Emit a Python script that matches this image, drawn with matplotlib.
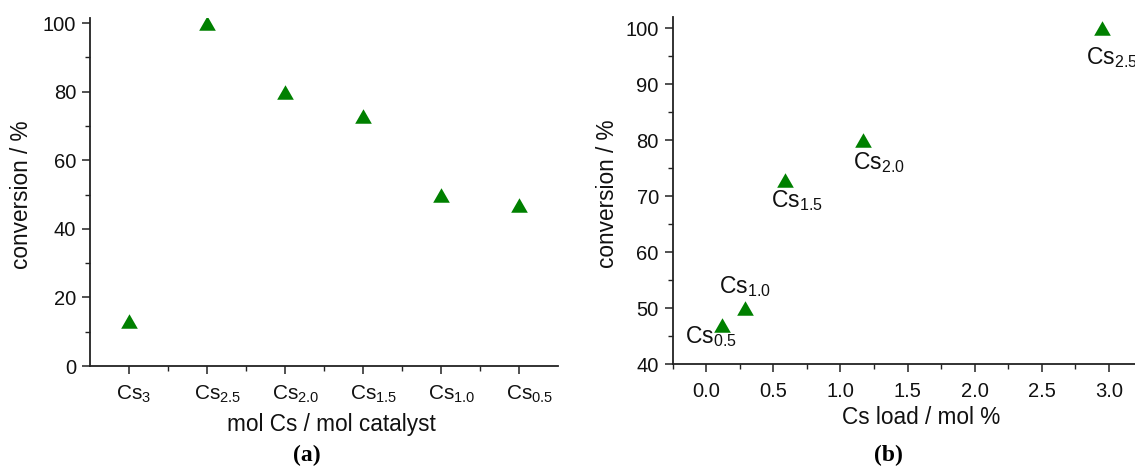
import matplotlib
matplotlib.use("Agg")
import matplotlib.pyplot as plt
from matplotlib.ticker import MultipleLocator, FixedLocator, FormatStrFormatter
from matplotlib.transforms import ScaledTranslation

plt.rcParams['font.family'] = ['Liberation Sans', 'DejaVu Sans']
plt.rcParams['mathtext.fontset'] = 'custom'
plt.rcParams['mathtext.rm'] = 'Liberation Sans'
plt.rcParams['mathtext.it'] = 'Liberation Sans:italic'
plt.rcParams['mathtext.bf'] = 'Liberation Sans:bold'

# (a) conversion per catalyst composition
cat_subscripts = ['3', '2.5', '2.0', '1.5', '1.0', '0.5']
conv_a = [13, 100, 80, 73, 50, 47]

# (b) conversion against Cs load
sub_b = ['0.5', '1.0', '1.5', '2.0', '2.5']
load_b = [0.12, 0.29, 0.59, 1.17, 2.95]
conv_b = [47, 50, 73, 80, 100]

GREEN = '#008000'
AX_COL = '#222222'
TXT = '#111111'
tri = [(0, 0.87), (-1, -0.87), (1, -0.87)]

W, H = 1135, 467
fig = plt.figure(figsize=(W / 100, H / 100), dpi=100)


def px_box(x0, y_top, x1, y_bot):
    return [x0 / W, 1 - y_bot / H, (x1 - x0) / W, (y_bot - y_top) / H]


def style_axes(ax):
    for s in ('top', 'right'):
        ax.spines[s].set_visible(False)
    for s in ('left', 'bottom'):
        ax.spines[s].set_linewidth(1.3)
        ax.spines[s].set_color(AX_COL)
    ax.tick_params(which='major', direction='out', length=6, width=1.1,
                   color=AX_COL, labelsize=14.5, labelcolor=TXT)
    ax.tick_params(which='minor', direction='out', length=3.5, width=1.0,
                   color=AX_COL)
    ax.tick_params(axis='y', pad=4)
    ax.tick_params(axis='x', pad=7)


# ---- panel (a) ----
ax1 = fig.add_axes(px_box(90, 18, 558, 366))
style_axes(ax1)
xa = list(range(len(conv_a)))
ax1.plot(xa, conv_a, linestyle='none', marker=tri, ms=12,
         color=GREEN, markeredgewidth=0)
ax1.set_xlim(-0.5, len(conv_a) - 0.5)
ax1.set_ylim(0, 101.5)
ax1.yaxis.set_major_locator(MultipleLocator(20))
ax1.yaxis.set_minor_locator(MultipleLocator(10))
ax1.xaxis.set_major_locator(FixedLocator(xa))
ax1.xaxis.set_minor_locator(FixedLocator([i + 0.5 for i in xa[:-1]]))
ax1.set_xticklabels([r'Cs$_\mathregular{%s}$' % s for s in cat_subscripts],
                    fontsize=15)
# centre the "Cs" part on each tick, letting the subscript hang to the right
cs_half = 0.5 * 1.222 * 15 * 100 / 72
shift = ScaledTranslation(-cs_half / 100, 0, fig.dpi_scale_trans)
for lab in ax1.get_xticklabels():
    lab.set_ha('left')
    lab.set_transform(lab.get_transform() + shift)

# ---- panel (b) ----
ax2 = fig.add_axes(px_box(672.7, 16.7, 1142.5, 364.3))
style_axes(ax2)
ax2.plot(load_b, conv_b, linestyle='none', marker=tri, ms=12,
         color=GREEN, markeredgewidth=0)
ax2.set_xlim(-0.25, 3.25)
ax2.set_ylim(40, 102.1)
ax2.xaxis.set_major_locator(MultipleLocator(0.5))
ax2.xaxis.set_minor_locator(MultipleLocator(0.25))
ax2.yaxis.set_major_locator(MultipleLocator(10))
ax2.yaxis.set_minor_locator(MultipleLocator(5))
ax2.xaxis.set_major_formatter(FormatStrFormatter('%.1f'))

label_offsets = [(-37, -18), (-26, 15), (-14, -28), (-10, -29), (-16, -36)]
for s, x, y, off in zip(sub_b, load_b, conv_b, label_offsets):
    ax2.annotate(r'Cs$_\mathregular{%s}$' % s, xy=(x, y), xytext=off,
                 textcoords='offset pixels', ha='left', va='baseline',
                 fontsize=16.5, color=TXT, annotation_clip=False)

# ---- axis titles and panel tags ----
fig.text(331 / W, 1 - 425 / H, 'mol Cs / mol catalyst', ha='center',
         va='center', fontsize=16.3, color=TXT)
fig.text(921 / W, 1 - 417 / H, 'Cs load / mol %', ha='center',
         va='center', fontsize=16.3, color=TXT)
fig.text(22 / W, 1 - 195 / H, 'conversion / %', ha='center', va='center',
         rotation=90, fontsize=16.3, color=TXT)
fig.text(608 / W, 1 - 194 / H, 'conversion / %', ha='center', va='center',
         rotation=90, fontsize=16.3, color=TXT)
fig.text(307 / W, 1 - 455 / H, '(a)', ha='center', va='center',
         fontsize=17, fontweight='bold', family='Liberation Serif')
fig.text(888 / W, 1 - 455 / H, '(b)', ha='center', va='center',
         fontsize=17, fontweight='bold', family='Liberation Serif')

fig.savefig('out.png', dpi=100)
